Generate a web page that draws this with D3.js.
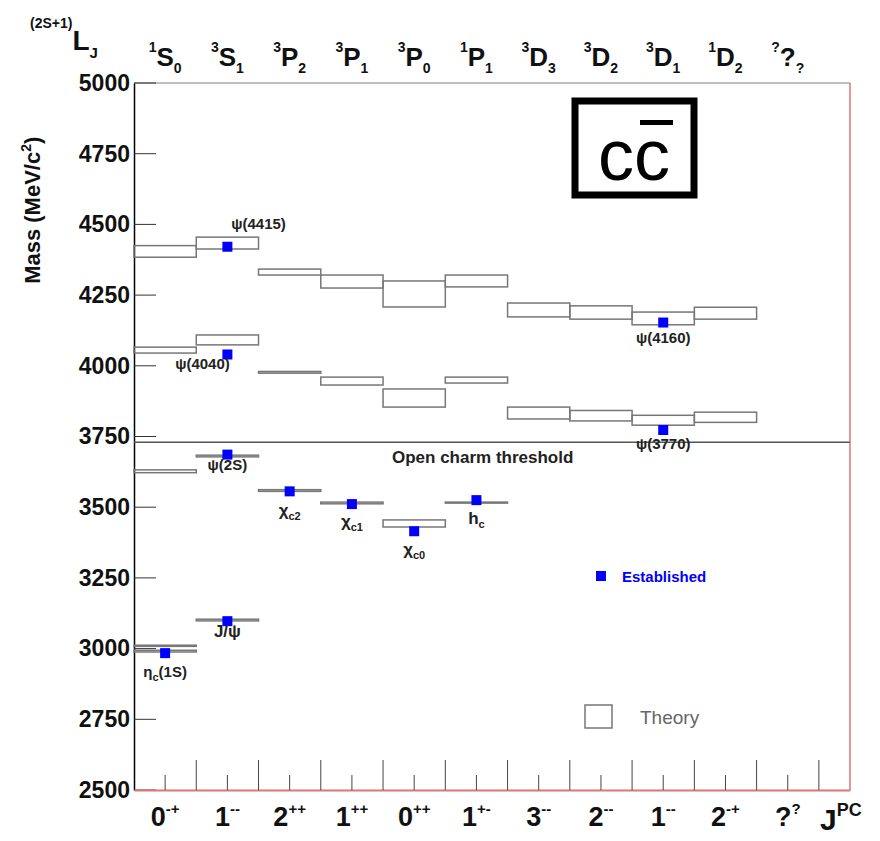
<!DOCTYPE html>
<html><head><meta charset="utf-8">
<script src="https://cdn.jsdelivr.net/npm/d3@7"></script>
<style>body{margin:0;background:#fff}text{font-family:"Liberation Sans",Arial,sans-serif}</style>
</head><body><svg id="c" width="880" height="841"></svg>
<script>
// spectroscopic labels: [sup, letter, sub]
var lj = [["1","S","0"],["3","S","1"],["3","P","2"],["3","P","1"],["3","P","0"],["1","P","1"],["3","D","3"],["3","D","2"],["3","D","1"],["1","D","2"],["?","?","?"]];
var jpc = [["0","-+"],["1","--"],["2","++"],["1","++"],["0","++"],["1","+-"],["3","--"],["2","--"],["1","--"],["2","-+"],["?","?"]];
// theory boxes: [column, low, high]
var theory = [
  [0, 4384, 4425], [1, 4413, 4455], [2, 4321, 4342], [3, 4275, 4321], [4, 4208, 4300],
  [5, 4279, 4321], [6, 4173, 4222], [7, 4165, 4212], [8, 4145, 4190], [9, 4165, 4207],
  [0, 4045, 4066], [1, 4074, 4109], [2, 3974, 3980], [3, 3932, 3960], [4, 3854, 3918],
  [5, 3939, 3960], [6, 3812, 3854], [7, 3805, 3842], [8, 3790, 3825], [9, 3800, 3836],
  [0, 3622, 3632], [1, 3678, 3684], [2, 3556, 3562], [3, 3512, 3518], [4, 3430, 3455],
  [5, 3515, 3518], [1, 3098, 3104], [0, 2988, 2994], [0, 3008, 3012]
];
// established states: [column, mass, label, labelMass, dx]
var states = [
  [0, 2984, "ηc(1S)", 2900, 0], [1, 3097, "J/ψ", 3040, 0], [1, 3686, "ψ(2S)", 3630, 0],
  [2, 3556, "χc2", 3470, 0], [3, 3511, "χc1", 3430, 0], [4, 3415, "χc0", 3330, 0],
  [5, 3525, "hc", 3440, 0], [1, 4040, "ψ(4040)", 3990, -0.4], [1, 4421, "ψ(4415)", 4485, 0.5],
  [8, 4153, "ψ(4160)", 4080, 0], [8, 3773, "ψ(3770)", 3705, 0]
];
var threshold = 3730;
var yTicks = [2500, 2750, 3000, 3250, 3500, 3750, 4000, 4250, 4500, 4750, 5000];

var svg = d3.select("#c");
var x = d3.scaleLinear().domain([0, 11.5]).range([134, 850]);
var y = d3.scaleLinear().domain([2500, 5000]).range([790, 83]);
var cw = x(1) - x(0);

// frame
svg.append("line").attr("x1", x(0)).attr("x2", x(11.5)).attr("y1", y(5000)).attr("y2", y(5000)).attr("stroke", "#aaa").attr("stroke-width", 1.5);
svg.append("line").attr("x1", x(11.5)).attr("x2", x(11.5)).attr("y1", y(5000)).attr("y2", y(2500)).attr("stroke", "#c33").attr("stroke-width", 1);

var ya = svg.append("g").attr("transform", "translate(" + x(0) + ",0)")
  .call(d3.axisLeft(y).tickValues(yTicks).tickSize(0).tickPadding(4).tickFormat(d3.format("d")));
ya.select(".domain").attr("stroke", "#000").attr("stroke-width", 1.5);
ya.selectAll("text").attr("font-size", 23).attr("font-weight", "bold").attr("fill", "#111");
// inward ticks
svg.append("g").selectAll("line").data(yTicks).join("line")
  .attr("x1", x(0)).attr("x2", x(0) + 22).attr("y1", d => y(d)).attr("y2", d => y(d)).attr("stroke", "#333");

var xa = svg.append("g").attr("transform", "translate(0," + y(2500) + ")")
  .call(d3.axisBottom(x).tickValues(d3.range(1, 12)).tickSize(0).tickFormat(""));
xa.select(".domain").attr("stroke", "#d77").attr("stroke-width", 2);
svg.append("g").selectAll("line").data(d3.range(0.5, 11.5, 0.5)).join("line")
  .attr("x1", d => x(d)).attr("x2", d => x(d)).attr("y1", y(2500))
  .attr("y2", d => y(2500) - (d % 1 === 0 ? 30 : 15)).attr("stroke", "#444");

// threshold
svg.append("line").attr("x1", x(0)).attr("x2", x(11.5)).attr("y1", y(threshold)).attr("y2", y(threshold)).attr("stroke", "#555").attr("stroke-width", 1.5);
svg.append("text").attr("x", x(5.6)).attr("y", y(threshold) + 21).attr("text-anchor", "middle")
  .attr("font-size", 17).attr("font-weight", "bold").attr("fill", "#222").text("Open charm threshold");

// theory boxes
svg.append("g").selectAll("rect").data(theory).join("rect")
  .attr("x", d => x(d[0])).attr("width", cw)
  .attr("y", d => y(d[2])).attr("height", d => Math.max(1, y(d[1]) - y(d[2])))
  .attr("fill", "none").attr("stroke", "#777").attr("stroke-width", 1.5);

// established markers
svg.append("g").selectAll("rect").data(states).join("rect")
  .attr("x", d => x(d[0] + 0.5) - 5).attr("y", d => y(d[1]) - 5).attr("width", 10).attr("height", 10).attr("fill", "#0000ff");

var lab = svg.append("g").selectAll("text").data(states).join("text")
  .attr("x", d => x(d[0] + 0.5 + d[4])).attr("y", d => y(d[3]))
  .attr("text-anchor", "middle").attr("font-size", d => d[2].length > 4 ? 15 : 17).attr("font-weight", "bold").attr("fill", "#222");
lab.each(function (d) {
  var t = d3.select(this), s = d[2];
  if (s[0] === "χ" || s[0] === "h" || s[0] === "η") {
    t.append("tspan").text(s[0]);
    t.append("tspan").attr("font-size", 11).attr("dy", 4).text(s.slice(1, 3).replace("(", ""));
    if (s[0] === "η") t.append("tspan").attr("dy", -4).text(s.slice(2));
  } else t.text(s);
});

// top labels
var topLab = svg.append("g").selectAll("text").data(lj).join("text")
  .attr("x", (d, i) => x(i + 0.5)).attr("y", 57).attr("text-anchor", "middle").attr("font-size", 26).attr("font-weight", "bold").attr("fill", "#111");
topLab.append("tspan").attr("font-size", 14).attr("dy", -5).text(d => d[0]);
topLab.append("tspan").attr("dy", 14).text(d => d[1]);
topLab.append("tspan").attr("font-size", 14).attr("dy", 7).text(d => d[2]);
var ljt = svg.append("text").attr("x", 30).attr("y", 50).attr("font-size", 28).attr("font-weight", "bold").attr("fill", "#111");
ljt.append("tspan").attr("font-size", 14).attr("dy", -22).text("(2S+1)");
ljt.append("tspan").attr("dy", 22).text("L");
ljt.append("tspan").attr("font-size", 15).attr("dy", 8).text("J");

// bottom labels
var bot = svg.append("g").selectAll("text").data(jpc).join("text")
  .attr("x", (d, i) => x(i + 0.5)).attr("y", 826).attr("text-anchor", "middle").attr("font-size", 27).attr("font-weight", "bold").attr("fill", "#111");
bot.append("tspan").text(d => d[0]);
bot.append("tspan").attr("font-size", 15).attr("dy", -12).text(d => d[1]);
var jt = svg.append("text").attr("x", 820).attr("y", 830).attr("font-size", 30).attr("font-weight", "bold").attr("fill", "#111");
jt.append("tspan").text("J");
jt.append("tspan").attr("font-size", 18).attr("dy", -14).text("PC");

// y title
svg.append("text").attr("transform", "translate(40," + y(4550) + ") rotate(-90)").attr("text-anchor", "middle")
  .attr("font-size", 22).attr("font-weight", "bold").attr("fill", "#111")
  .html('Mass (MeV/c<tspan font-size="14" dy="-9">2</tspan><tspan dy="9">)</tspan>');

// cc-bar box
svg.append("rect").attr("x", 575).attr("y", 101).attr("width", 119).attr("height", 94).attr("fill", "#fff").attr("stroke", "#000").attr("stroke-width", 7);
svg.append("text").attr("x", 634).attr("y", 180).attr("text-anchor", "middle").attr("font-size", 72).attr("fill", "#000").text("cc");
svg.append("rect").attr("x", 640).attr("y", 120).attr("width", 33).attr("height", 5).attr("fill", "#000");

// legend
svg.append("rect").attr("x", 596).attr("y", 571).attr("width", 10).attr("height", 10).attr("fill", "#0000ff");
svg.append("text").attr("x", 622).attr("y", 582).attr("font-size", 15).attr("font-weight", "bold").attr("fill", "#0000ff").text("Established");
svg.append("rect").attr("x", 585).attr("y", 705).attr("width", 27).attr("height", 23).attr("fill", "none").attr("stroke", "#777").attr("stroke-width", 1.5);
svg.append("text").attr("x", 640).attr("y", 724).attr("font-size", 19).attr("fill", "#666").text("Theory");
</script></body></html>
